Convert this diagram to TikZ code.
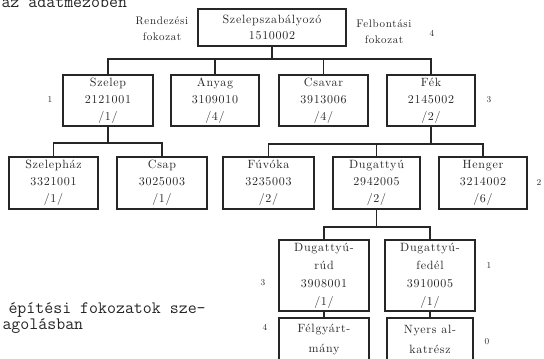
\documentclass[tikz,border=0pt]{standalone}
\usepackage{fontspec}
\newfontfamily\boxfam{lmroman10}[Extension=.otf, UprightFont=*-regular, LetterSpace=6]
\definecolor{ink}{HTML}{262626}
\newcommand{\boxfont}{\boxfam\fontsize{12}{17}\selectfont}
\newcommand{\lblfont}{\boxfam\fontsize{11}{16}\selectfont}
\newcommand{\bigtt}{\ttfamily\fontsize{17.4}{20}\selectfont}
\tikzset{
  box/.style={draw=ink, line width=1.6pt, rectangle, inner sep=0pt, align=center, font=\boxfont, text=ink},
  conn/.style={draw=ink, line width=1.6pt},
  lbl/.style={font=\lblfont, text=ink, align=center},
  num/.style={font=\fontsize{9}{10}\selectfont, text=ink},
  body/.style={font=\bigtt, text=ink, anchor=base west},
}
\begin{document}
\begin{tikzpicture}[x=1pt,y=-1pt]
\useasboundingbox (0,0) rectangle (544,359);
\clip (0,0) rectangle (544,359);
% root
\node[box, minimum width=148, minimum height=37, font=\boxfam\fontsize{12}{16}\selectfont] (root) at (272,27.5) {Szelepszabályozó\\1510002};
% level 1
\node[box, minimum width=90, minimum height=51] (szelep) at (108,100.5) {Szelep\\2121001\\/1/};
\node[box, minimum width=88, minimum height=51] (anyag) at (215,100.5) {Anyag\\3109010\\/4/};
\node[box, minimum width=89, minimum height=51] (csavar) at (323.5,100.5) {Csavar\\3913006\\/4/};
\node[box, minimum width=88, minimum height=51] (fek) at (431,100.5) {Fék\\2145002\\/2/};
% level 2
\node[box, minimum width=89, minimum height=52] (szh) at (53.5,183) {Szelepház\\3321001\\/1/};
\node[box, minimum width=90, minimum height=52] (csap) at (162,183) {Csap\\3025003\\/1/};
\node[box, minimum width=91, minimum height=52] (fuv) at (268.5,183) {Fúvóka\\3235003\\/2/};
\node[box, minimum width=87, minimum height=52] (dug) at (376.5,183) {Dugattyú\\2942005\\/2/};
\node[box, minimum width=88, minimum height=52] (heng) at (483,183) {Henger\\3214002\\/6/};
% level 3
\node[box, minimum width=90, minimum height=71, font=\boxfam\fontsize{12}{18}\selectfont] (rud) at (324,275.5) {Dugattyú-\\rúd\\3908001\\/1/};
\node[box, minimum width=90, minimum height=71, font=\boxfam\fontsize{12}{18}\selectfont] (fed) at (430,275.5) {Dugattyú-\\fedél\\3910005\\/1/};
% level 4
\node[box, minimum width=90, minimum height=43, font=\boxfam\fontsize{12}{20}\selectfont] (felgy) at (324,339.5) {Félgyárt-\\mány};
\node[box, minimum width=86, minimum height=43, font=\boxfam\fontsize{12}{20}\selectfont] (nyers) at (430,339.5) {Nyers al-\\katrész};
% connectors
\draw[conn] (root.south) -- ++(0,12) coordinate (b1);
\foreach \c in {szelep,anyag,csavar,fek} \draw[conn] (b1) -| (\c.north);
\draw[conn] (szelep.south) -- ++(0,16) coordinate (b2);
\foreach \c in {szh,csap} \draw[conn] (b2) -| (\c.north);
\draw[conn] (fek.south) -- ++(0,17) coordinate (b3);
\foreach \c in {fuv,dug,heng} \draw[conn] (b3) -| (\c.north);
\draw[conn] (dug.south) -- ++(0,17) coordinate (b4);
\foreach \c in {rud,fed} \draw[conn] (b4) -| (\c.north);
\draw[conn] (rud.south) -- (felgy.north);
\draw[conn] (fed.south) -- (nyers.north);
% side labels
\node[lbl] (rend) at (162,29) {Rendezési\\fokozat};
\node[lbl] (felb) at (384,31.5) {Felbontási\\fokozat};
\node[num] (n4a) at (432,33) {4};
\node[num] (n1a) at (50,100) {1};
\node[num] (n3a) at (489,100) {3};
\node[num] (n2a) at (539,183) {2};
\node[num] (n3b) at (263,283) {3};
\node[num] (n4b) at (265,327) {4};
\node[num] (n1b) at (489,265) {1};
\node[num] (n0) at (487,342) {0};
% body text
\node[body] (t1) at (-2,7.5) {az adatmezőben};
\node[body] (t2) at (5,313) {építési fokozatok sze-};
\node[body] (t3) at (-1,329) {agolásban};
\end{tikzpicture}
\end{document}
